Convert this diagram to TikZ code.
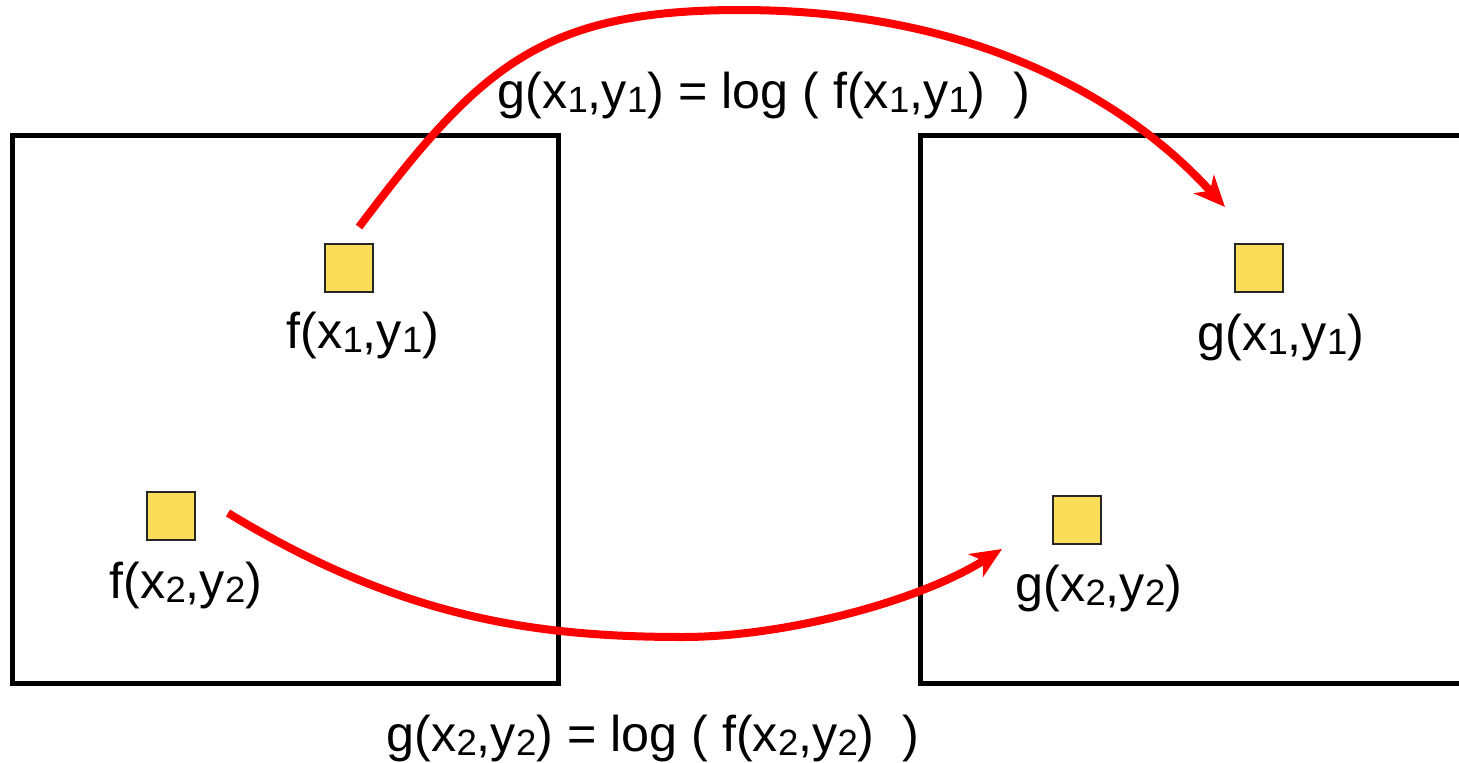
\documentclass[tikz,border=0pt]{standalone}
\usepackage{fontspec}
\setmainfont{Liberation Sans}
\usetikzlibrary{arrows.meta}
\definecolor{cellyellow}{RGB}{250,222,90}
\newcommand{\idx}[1]{\raisebox{-0.08em}{\fontsize{10.4}{12}\selectfont #1}}

\begin{document}
\begin{tikzpicture}[x=0.01cm, y=-0.01cm,
    panel/.style={draw, line width=0.05cm, minimum width=5.45cm, minimum height=5.47cm, inner sep=0},
    cell/.style={draw=black!85, fill=cellyellow, line width=0.02cm, minimum size=0.48cm, inner sep=0},
    lbl/.style={anchor=base, inner sep=0, font=\fontsize{14.3}{17}\selectfont},
    map/.style={draw=red, line width=0.08cm, -{Stealth[length=0.31cm, width=0.27cm, inset=0.09cm]}}]
        \useasboundingbox (0,0) rectangle (1459,763);

        \node[panel] (fpanel) at (285.5,409.5) {};
        \node[panel, minimum width=5.49cm] (gpanel) at (1195.5,409.5) {};

        \node[cell] (f1) at (349,268) {};
        \node[cell] (f2) at (171,516) {};
        \node[cell] (g1) at (1259,268) {};
        \node[cell] (g2) at (1077,520) {};

        \node[lbl] (f1lbl) at (363,348) {f(x\idx{1},y\idx{1})};
        \node[lbl] (f2lbl) at (186,598) {f(x\idx{2},y\idx{2})};
        \node[lbl] (g1lbl) at (1281,350) {g(x\idx{1},y\idx{1})};
        \node[lbl] (g2lbl) at (1099,601) {g(x\idx{2},y\idx{2})};

        \node[lbl] (rule1) at (764,108) {g(x\idx{1},y\idx{1}) = log ( f(x\idx{1},y\idx{1})\ \ )};
        \node[lbl] (rule2) at (653,751) {g(x\idx{2},y\idx{2}) = log ( f(x\idx{2},y\idx{2})\ \ )};

        % free ends of the arrows
        \coordinate (s1) at ([shift={(10,-16)}]f1.north);
        \coordinate (e1) at ([shift={(-34,-36)}]g1.north);
        \coordinate (s2) at ([shift={(32,-3)}]f2.east);
        \coordinate (e2) at ([shift={(-50,29)}]g2.west);

        \draw[map] (s1) .. controls (479,68) and (540,10) .. (740,10)
                        .. controls (1040,10) and (1178,156) .. (e1);
        \draw[map] (s2) .. controls (399,617) and (533,637) .. (683,637)
                        .. controls (783,637) and (918,602) .. (e2);
\end{tikzpicture}
\end{document}
